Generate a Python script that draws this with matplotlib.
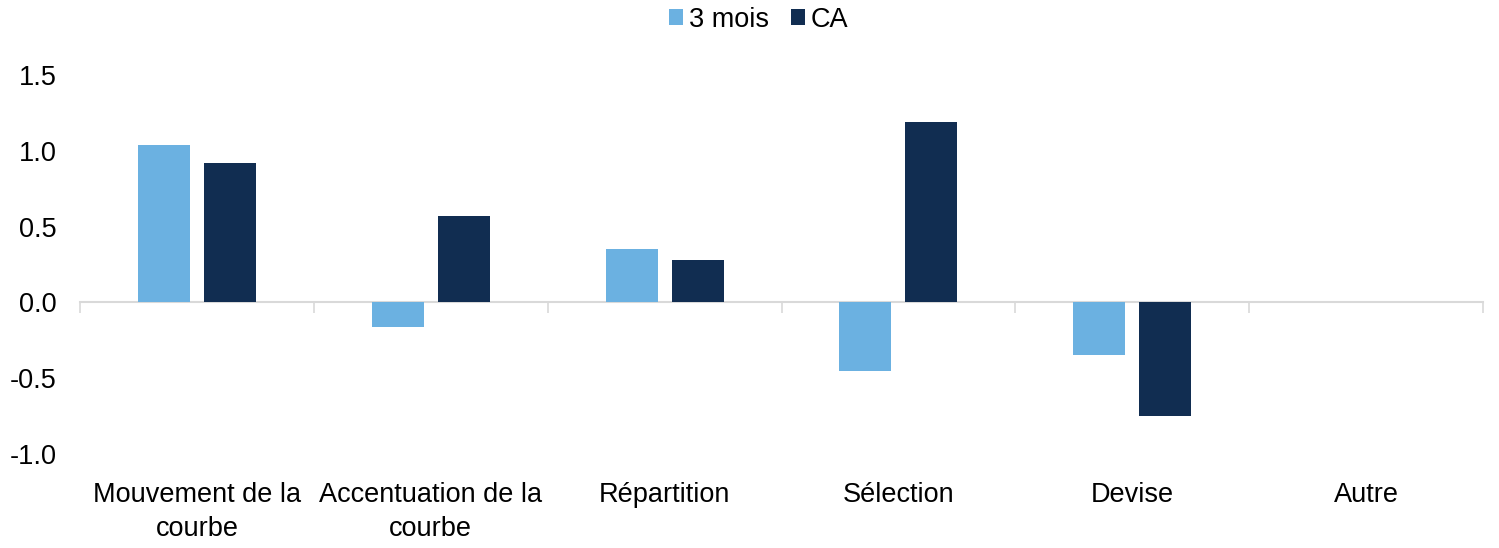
import matplotlib
matplotlib.use("Agg")
import matplotlib.pyplot as plt
import numpy as np
from matplotlib.patches import Patch

categories = ["Mouvement de la\ncourbe", "Accentuation de la\ncourbe", "Répartition",
              "Sélection", "Devise", "Autre"]
series_names = ["3 mois", "CA"]
vals_3m = [1.04, -0.16, 0.35, -0.45, -0.35, 0.0]
vals_ca = [0.92, 0.57, 0.28, 1.19, -0.75, 0.0]
yticks = [-1.0, -0.5, 0.0, 0.5, 1.0, 1.5]

c_light = "#6BB1E1"
c_dark = "#112D51"
FS = 19.5

plt.rcParams['font.family'] = ['Liberation Sans', 'DejaVu Sans']

fig = plt.figure(figsize=(14.99, 5.48), dpi=100)
ax = fig.add_axes([0.0534, 0.1715, 0.9359, 0.6916])

x = np.arange(len(categories))
w = 0.222
off = 0.141
ax.bar(x - off, vals_3m, width=w, color=c_light)
ax.bar(x + off, vals_ca, width=w, color=c_dark)

ax.set_xlim(-0.5, len(categories) - 0.5)
ax.set_ylim(-1.0, 1.5)
ax.set_yticks(yticks)
ax.set_yticklabels([f"{v:.1f}" for v in yticks], fontsize=FS)
ax.tick_params(axis='y', length=0, pad=17)

ax.set_xticks(x)
ax.set_xticklabels(categories, fontsize=FS, linespacing=1.4)
ax.tick_params(axis='x', length=0, pad=20)

for s in ax.spines.values():
    s.set_visible(False)

# zero axis line with category separator ticks
zero_pos = (0 - (-1.0)) / (1.5 - (-1.0))
sec = ax.secondary_xaxis(zero_pos)
sec.set_xticks(np.arange(-0.5, len(categories), 1.0))
sec.set_xticklabels([])
sec.tick_params(axis='x', direction='out', length=8, width=1.2, color="#d9d9d9")
sec.spines['bottom'].set_color("#d9d9d9")
sec.spines['bottom'].set_linewidth(1.5)

handles = [Patch(facecolor=c_light), Patch(facecolor=c_dark)]
fig.legend(handles, series_names, loc='center', bbox_to_anchor=(0.506, 0.964),
           ncol=2, frameon=False, fontsize=FS, handlelength=0.55, handleheight=0.55,
           handletextpad=0.2, columnspacing=0.8)

fig.savefig("out.png", dpi=100)
